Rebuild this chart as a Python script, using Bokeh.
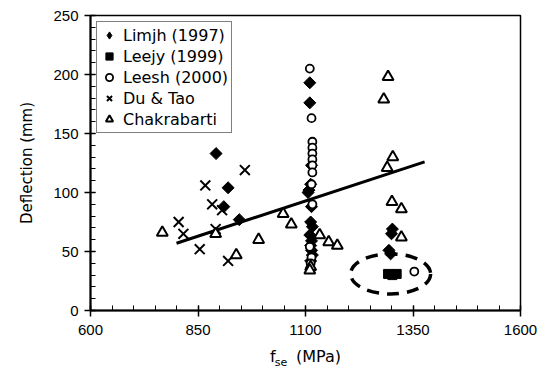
import math
from bokeh.plotting import figure
from bokeh.models import FixedTicker, Legend, LegendItem, Range1d, LinearAxis
from bokeh.embed import file_html
from bokeh.resources import INLINE

# ---- data ----
limjh_x = [892, 920, 910, 946,
           1110, 1110, 1114, 1112, 1108, 1106, 1114, 1112, 1116, 1110, 1114, 1112, 1114, 1116, 1112,
           1302, 1300, 1294, 1298]
limjh_y = [133, 104, 88, 77,
           193, 176, 123, 107, 102, 100, 88, 75, 71, 64, 59, 55, 51, 47, 42,
           69, 65, 51, 48]

leejy_x = [1292, 1302, 1312]
leejy_y = [31, 30, 31]

leesh_x = [1110, 1114, 1116, 1116, 1116, 1116, 1116, 1116, 1114, 1116, 1110, 1114, 1112, 1110, 1353]
leesh_y = [205, 163, 143, 138, 133, 128, 123, 117, 107, 90, 54, 45, 40, 35, 33]

dutao_x = [959, 867, 883, 906, 805, 816, 891, 854, 920]
dutao_y = [119, 106, 90, 85, 75, 65, 69, 52, 42]

chak_x = [767, 891, 939, 991, 1048, 1067, 1133, 1154, 1174, 1112, 1110,
          1292, 1282, 1303, 1290, 1301, 1323, 1323]
chak_y = [66, 65, 47, 60, 82, 73, 64, 58, 55, 37, 34,
          198, 179, 130, 121, 92, 86, 62]

fit_x = [800, 1377]
fit_y = [57, 126]

ell_x, ell_y, ell_w, ell_h = 1298, 31, 186, 34

x_ticks = [600, 850, 1100, 1350, 1600]
y_ticks = [0, 50, 100, 150, 200, 250]

FONT = "Liberation Sans"
WFONT = "DejaVu Sans"
NB = "\u00a0"

p = figure(width=547, height=381, output_backend="svg", toolbar_location=None,
           x_range=Range1d(600, 1600), y_range=Range1d(0, 250),
           min_border_left=90, min_border_right=27, min_border_top=15, min_border_bottom=71)
p.grid.visible = False
p.outline_line_color = "black"
p.outline_line_width = 1.5
p.background_fill_color = "white"
p.border_fill_color = "white"

p.xaxis.ticker = FixedTicker(ticks=x_ticks, minor_ticks=list(range(600, 1601, 50)))
p.yaxis.ticker = FixedTicker(ticks=y_ticks, minor_ticks=list(range(0, 251, 10)))
for ax in (p.xaxis, p.yaxis):
    ax.axis_line_width = 2
    ax.axis_line_color = "black"
    ax.major_tick_line_color = "black"
    ax.minor_tick_line_color = "black"
    ax.major_tick_line_width = 1.5
    ax.major_tick_in = 5
    ax.major_tick_out = 6
    ax.minor_tick_in = 5
    ax.minor_tick_out = 0
    ax.major_label_text_font = FONT
    ax.major_label_text_font_size = "15px"
    ax.major_label_text_color = "black"
    ax.axis_label_text_font = WFONT
    ax.axis_label_text_font_size = "15px"
    ax.axis_label_text_font_style = "normal"
    ax.axis_label_text_color = "black"
p.xaxis.major_label_standoff = 8
p.yaxis.major_label_standoff = 6
p.yaxis.axis_label = "Deflection (mm)"
p.yaxis.axis_label_standoff = 14

# x axis label "f se (MPa)" with a smaller, lowered "se"
p.xaxis.axis_label = "f" + NB * 4 + "(MPa)"
p.xaxis.axis_label_text_font_size = "16px"
p.xaxis.axis_label_standoff = 9

sub = LinearAxis(axis_label="se" + NB * 14, ticker=FixedTicker(ticks=[]))
sub.axis_line_color = None
sub.major_tick_line_color = None
sub.minor_tick_line_color = None
sub.major_label_text_font_size = "0px"
sub.major_tick_out = 0
sub.major_tick_in = 0
sub.major_label_standoff = 0
sub.axis_label_text_font = WFONT
sub.axis_label_text_font_size = "11px"
sub.axis_label_text_font_style = "normal"
sub.axis_label_text_color = "black"
sub.axis_label_standoff = -13
p.add_layout(sub, "below")

# regression line
p.line(fit_x, fit_y, line_color="black", line_width=3)

# dashed ellipse
p.ellipse(x=[ell_x], y=[ell_y], width=[ell_w], height=[ell_h], fill_alpha=0,
          line_color="black", line_width=3.5, line_dash="12 8")

p.scatter(limjh_x, limjh_y, marker="square", size=8.5, angle=math.pi / 4,
          fill_color="black", line_color="black")
r2 = p.scatter(leejy_x, leejy_y, marker="square", size=9, fill_color="black", line_color="black")
r3 = p.scatter(leesh_x, leesh_y, marker="circle", size=8, fill_color="white", line_color="black", line_width=1.8)
r4 = p.scatter(dutao_x, dutao_y, marker="x", size=14, line_color="black", line_width=2)
r5 = p.scatter(chak_x, chak_y, marker="triangle", size=11, fill_color="white", line_color="black", line_width=2)
# legend-only stand-in for the rotated-square (diamond) marker, placed outside the visible ranges
r1 = p.scatter(x=[0], y=[-100], marker="diamond", size=14, fill_color="black", line_color="black")

legend = Legend(items=[
    LegendItem(label="Limjh (1997)", renderers=[r1]),
    LegendItem(label="Leejy (1999)", renderers=[r2]),
    LegendItem(label="Leesh (2000)", renderers=[r3]),
    LegendItem(label="Du & Tao", renderers=[r4]),
    LegendItem(label="Chakrabarti", renderers=[r5]),
], location="top_left")
legend.label_text_font = WFONT
legend.label_text_font_size = "16px"
legend.label_text_color = "black"
legend.border_line_color = "black"
legend.border_line_width = 1.5
legend.background_fill_alpha = 1
legend.padding = 3
legend.spacing = 1
legend.margin = 6
legend.glyph_height = 20
legend.glyph_width = 18
legend.label_height = 20
legend.label_standoff = 5
p.add_layout(legend)

open("out.html", "w").write(file_html(p, INLINE))
